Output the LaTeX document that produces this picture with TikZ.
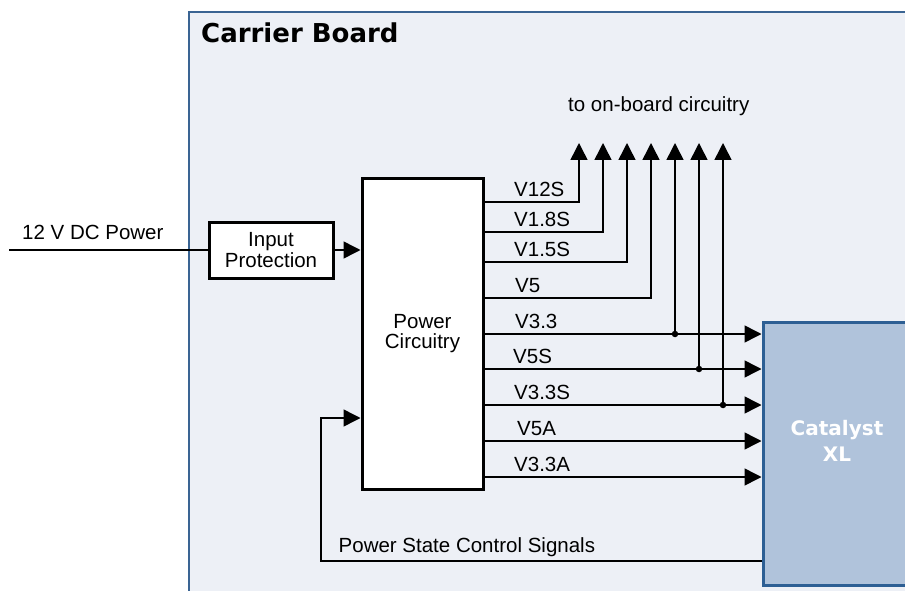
\documentclass[tikz,border=0pt]{standalone}
\usepackage{fontspec}
\setmainfont{Liberation Sans}
\newfontfamily\verd{DejaVu Sans}
\usetikzlibrary{arrows.meta,calc}
\definecolor{boardfill}{HTML}{EDF0F6}
\definecolor{boardline}{HTML}{3A6493}
\definecolor{catfill}{HTML}{B0C3DB}
\definecolor{catline}{HTML}{2D5F94}
\begin{document}
\begin{tikzpicture}[x=1pt,y=-1pt,
  txt/.style={font=\fontsize{20.5}{18}\selectfont, inner sep=0pt},
  blk/.style={draw=black, line width=3pt, fill=white, inner sep=0pt, align=center, font=\fontsize{20.5}{18}\selectfont},
  wire/.style={line width=1.5pt},
  arr/.style={wire, -{Triangle[length=17pt,width=17pt]}},
  jdot/.style={circle, fill=black, inner sep=0pt, minimum size=6.5pt}]
\useasboundingbox (0,0) rectangle (905,591);
\clip (0,0) rectangle (905,591);
% carrier board
\draw[fill=boardfill, draw=boardline, line width=1.3pt] (189,12) rectangle (1000,700);
\node[anchor=base west, inner sep=0pt, font={\fontsize{26}{30}\selectfont\verd\bfseries}] (title) at (201,43) {Carrier Board};
% blocks
\node[blk, minimum width=124pt, minimum height=56pt] (ip) at (271,250) {Input\\Protection};
\node[blk, minimum width=121pt, minimum height=311pt, font=\fontsize{20.5}{19.5}\selectfont] (pc) at (422.5,333.5) {Power\\Circuitry};
\node[draw=catline, fill=catfill, line width=3pt, minimum width=148pt, minimum height=263pt, inner sep=0pt] (cat) at (837,453.5) {};
\node[font={\fontsize{20}{26}\selectfont\verd\bfseries}, text=white, align=center, inner sep=0pt] (catlbl) at (837,441) {Catalyst\\XL};
% input
\coordinate (vin) at (9,250);
\draw[wire] (vin) -- (ip.west);
\node[txt, anchor=base west] (vinlbl) at (22,239) {12 V DC Power};
\draw[arr] (ip.east) -- (pc.west |- ip.east);
% up arrow tips
\coordinate (up1) at (579,143);
\coordinate (up2) at (603,143);
\coordinate (up3) at (627,143);
\coordinate (up4) at (651,143);
\coordinate (up5) at (675,143);
\coordinate (up6) at (699,143);
\coordinate (up7) at (723,143);
\node[txt, anchor=base west] (tolbl) at (568,112) {to on-board circuitry};
% rails to on-board only
\coordinate (c1) at (579,202);
\coordinate (c2) at (603,232);
\coordinate (c3) at (627,262);
\coordinate (c4) at (651,298);
\draw[arr] (pc.east |- c1) -- (c1) -- (up1);
\draw[arr] (pc.east |- c2) -- (c2) -- (up2);
\draw[arr] (pc.east |- c3) -- (c3) -- (up3);
\draw[arr] (pc.east |- c4) -- (c4) -- (up4);
% rails to Catalyst XL with taps
\node[jdot] (j1) at (675,334) {};
\node[jdot] (j2) at (699,369) {};
\node[jdot] (j3) at (723,405) {};
\coordinate (c8) at (700,441);
\coordinate (c9) at (700,477);
\draw[arr] (pc.east |- j1) -- (cat.west |- j1);
\draw[arr] (pc.east |- j2) -- (cat.west |- j2);
\draw[arr] (pc.east |- j3) -- (cat.west |- j3);
\draw[arr] (pc.east |- c8) -- (cat.west |- c8);
\draw[arr] (pc.east |- c9) -- (cat.west |- c9);
\draw[arr] (j1.center) -- (up5);
\draw[arr] (j2.center) -- (up6);
\draw[arr] (j3.center) -- (up7);
% rail labels
\node[txt, anchor=base west] (l1) at (514,196) {V12S};
\node[txt, anchor=base west] (l2) at (514,226) {V1.8S};
\node[txt, anchor=base west] (l3) at (514,256) {V1.5S};
\node[txt, anchor=base west] (l4) at (515,292) {V5};
\node[txt, anchor=base west] (l5) at (515,328) {V3.3};
\node[txt, anchor=base west] (l6) at (513,363) {V5S};
\node[txt, anchor=base west] (l7) at (514,399) {V3.3S};
\node[txt, anchor=base west] (l8) at (517,435) {V5A};
\node[txt, anchor=base west] (l9) at (514,471) {V3.3A};
% feedback
\coordinate (fb) at (321,561);
\coordinate (fbin) at (340,418);
\draw[arr] (cat.west |- fb) -- (fb) |- (pc.west |- fbin);
\node[txt, anchor=base west] (fblbl) at (338.5,552) {Power State Control Signals};
\end{tikzpicture}
\end{document}
